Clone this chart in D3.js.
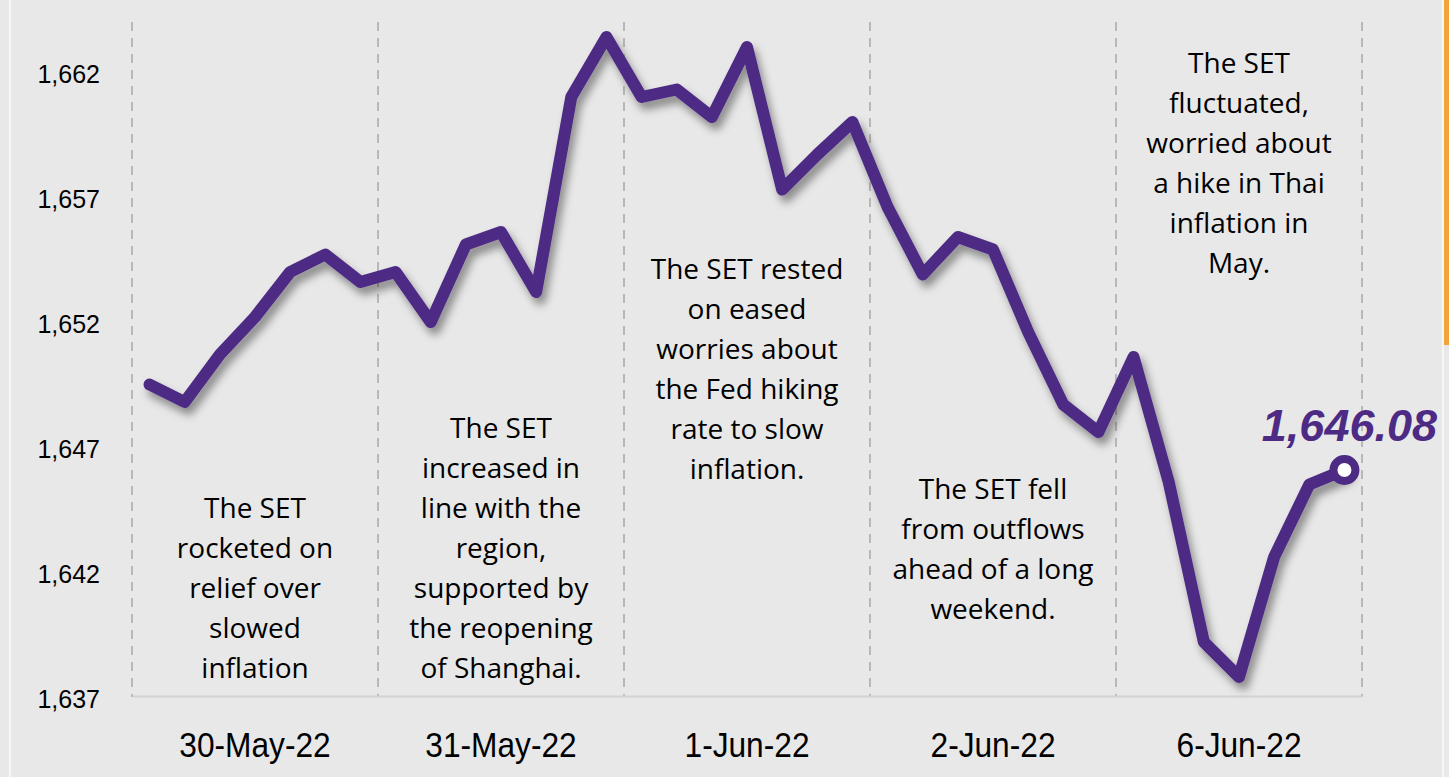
<!DOCTYPE html>
<html>
<head>
<meta charset="utf-8">
<script src="https://cdnjs.cloudflare.com/ajax/libs/d3/7.8.5/d3.min.js"></script>
<style>
  body { margin: 0; background: #e8e8e8; }
  svg { display: block; }
</style>
</head>
<body>
<div id="chart-area"></div>
<script>
// SET index, intraday, 30 May - 6 Jun 2022

var days = ['30-May-22', '31-May-22', '1-Jun-22', '2-Jun-22', '6-Jun-22']

// 7 readings per day
var setValues = [
    1649.5, 1648.8, 1650.7, 1652.2, 1654.0, 1654.7, 1653.6,
    1654.0, 1652.0, 1655.1, 1655.6, 1653.2, 1661.0, 1663.4,
    1661.0, 1661.3, 1660.2, 1663.0, 1657.3, 1658.7, 1660.0,
    1656.6, 1653.9, 1655.4, 1654.9, 1651.6, 1648.7, 1647.6,
    1650.6, 1645.6, 1639.2, 1637.8, 1642.6, 1645.5, 1646.08
]

var yTicks = [1637, 1642, 1647, 1652, 1657, 1662]

var notes = [
    ['The SET', 'rocketed on', 'relief over', 'slowed', 'inflation'],
    ['The SET', 'increased in', 'line with the', 'region,', 'supported by', 'the reopening', 'of Shanghai.'],
    ['The SET rested', 'on eased', 'worries about', 'the Fed hiking', 'rate to slow', 'inflation.'],
    ['The SET fell', 'from outflows', 'ahead of a long', 'weekend.'],
    ['The SET', 'fluctuated,', 'worried about', 'a hike in Thai', 'inflation in', 'May.']
]
// first line centre of each note, in y pixels
var noteTop = [508, 428, 269, 489, 63]

var width = 1449
var height = 777
var plotLeft = 132
var plotRight = 1362
var plotTop = 22
var plotBottom = 697
var purple = '#4d2a84'

//////////  Scales  ///////////
var dayScale = d3.scaleBand()
    .domain(days)
    .range([plotLeft, plotRight]);

var idxScale = d3.scalePoint()
    .domain(d3.range(setValues.length))
    .range([plotLeft, plotRight])
    .padding(0.5);

var yScale = d3.scaleLinear()
    .domain([1637, 1662])
    .range([697, 72]);

var svg = d3.select('#chart-area')
    .append('svg')
        .attr('width', width)
        .attr('height', height);

// drop shadow for the line
var defs = svg.append('defs');
defs.append('filter')
        .attr('id', 'shadow')
        .attr('x', '-10%').attr('y', '-10%')
        .attr('width', '120%').attr('height', '130%')
    .append('feDropShadow')
        .attr('dx', 4)
        .attr('dy', 7)
        .attr('stdDeviation', 4)
        .attr('flood-color', '#000')
        .attr('flood-opacity', 0.4);

svg.append('rect')
    .attr('width', width)
    .attr('height', height)
    .attr('fill', '#e8e8e8');

// frame bits at the edges
svg.append('line')
    .attr('x1', 10).attr('x2', 10)
    .attr('y1', 0).attr('y2', height)
    .attr('stroke', '#f6f6f6')
    .attr('stroke-width', 2);
svg.append('line')
    .attr('x1', 1443).attr('x2', 1443)
    .attr('y1', 0).attr('y2', height)
    .attr('stroke', '#f6f6f6')
    .attr('stroke-width', 2);
svg.append('rect')
    .attr('x', 1444).attr('y', 0)
    .attr('width', 5).attr('height', 345)
    .attr('fill', '#f2a33a');

// day separators
var seps = days.map(function(d) { return dayScale(d) })
seps.push(plotRight)
svg.selectAll('.sep')
    .data(seps)
    .enter()
    .append('line')
        .attr('class', 'sep')
        .attr('x1', function(d) { return d })
        .attr('x2', function(d) { return d })
        .attr('y1', plotTop)
        .attr('y2', plotBottom)
        .attr('stroke', '#a8a8a8')
        .attr('stroke-width', 1.5)
        .attr('stroke-dasharray', '9,7');

// bottom axis
var xAxisCall = d3.axisBottom(dayScale).tickSize(0).tickPadding(0);
var xAxis = svg.append('g')
    .attr('class', 'x axis')
    .attr('transform', 'translate(0, ' + (plotBottom - 1) + ')')
    .call(xAxisCall);
xAxis.select('.domain')
    .attr('stroke', '#d2d2d2')
    .attr('stroke-width', 2);
// squeeze the labels a bit, the original uses a narrow face
xAxis.selectAll('.tick text')
    .attr('fill', '#000')
    .attr('font-family', '"Liberation Sans", Arial, sans-serif')
    .attr('font-size', '36px')
    .attr('y', 0)
    .attr('dy', 0)
    .attr('transform', 'translate(0, 61) scale(0.88, 1)');

// left axis, labels only
var yAxisCall = d3.axisLeft(yScale)
    .tickValues(yTicks)
    .tickSize(0)
    .tickPadding(0)
    .tickFormat(d3.format(','));
var yAxis = svg.append('g')
    .attr('class', 'y axis')
    .attr('transform', 'translate(100, 2)')
    .call(yAxisCall);
yAxis.select('.domain').remove();
yAxis.selectAll('text')
    .attr('fill', '#000')
    .attr('font-family', '"Liberation Sans", Arial, sans-serif')
    .attr('font-size', '25px');

// notes
days.forEach(function(d, i) {
    var t = svg.append('text')
        .attr('text-anchor', 'middle')
        .attr('font-family', '"Open Sans", sans-serif')
        .attr('font-size', '28px')
        .attr('fill', '#000');
    t.selectAll('tspan')
        .data(notes[i])
        .enter()
        .append('tspan')
            .attr('x', dayScale(d) + dayScale.bandwidth() / 2)
            .attr('y', function(s, j) { return noteTop[i] + j * 40 })
            .attr('dy', '0.35em')
            .text(function(s) { return s });
});

// the index line
var line = d3.line()
    .x(function(d, i) { return idxScale(i) })
    .y(function(d) { return yScale(d) });

svg.append('path')
    .datum(setValues)
    .attr('d', line)
    .attr('fill', 'none')
    .attr('stroke', purple)
    .attr('stroke-width', 12)
    .attr('stroke-linejoin', 'round')
    .attr('stroke-linecap', 'round')
    .attr('filter', 'url(#shadow)');

// last point
var lastI = setValues.length - 1
var lastV = setValues[lastI]
svg.append('circle')
    .attr('cx', idxScale(lastI))
    .attr('cy', yScale(lastV))
    .attr('r', 11)
    .attr('fill', '#fff')
    .attr('stroke', purple)
    .attr('stroke-width', 8);

svg.append('text')
    .attr('x', idxScale(lastI) + 5)
    .attr('y', yScale(lastV) - 29)
    .attr('text-anchor', 'middle')
    .attr('font-family', '"Liberation Sans", Arial, sans-serif')
    .attr('font-size', '45px')
    .attr('font-weight', 'bold')
    .attr('font-style', 'italic')
    .attr('fill', purple)
    .text(d3.format(',.2f')(lastV));
</script>
</body>
</html>
